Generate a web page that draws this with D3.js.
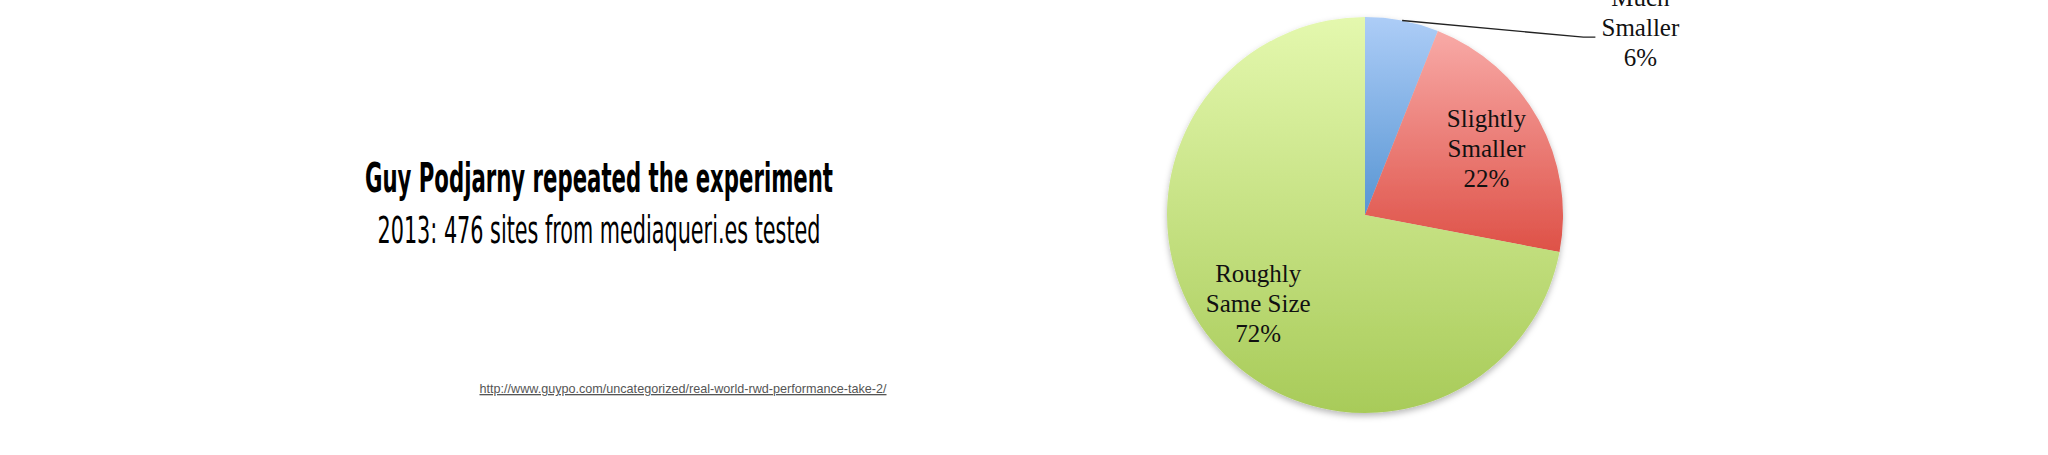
<!DOCTYPE html>
<html>
<head>
<meta charset="utf-8">
<script src="https://cdn.jsdelivr.net/npm/d3@7"></script>
<style>
  html, body { margin: 0; padding: 0; background: #fff; }
  svg { display: block; }
</style>
</head>
<body>
<div id="chart"></div>
<script>
// Slide data
const categories = ["Much Smaller", "Slightly Smaller", "Roughly Same Size"];
const labelLines = [["Much", "Smaller"], ["Slightly", "Smaller"], ["Roughly", "Same Size"]];
const shares = [6, 22, 72];
const titleText = "Guy Podjarny repeated the experiment";
const subtitleText = "2013: 476 sites from mediaqueri.es tested";
const sourceUrl = "http://www.guypo.com/uncategorized/real-world-rwd-performance-take-2/";

// gradient stops per slice: [top, bottom]
const sliceColors = [["#adcdf7", "#5795d3"], ["#f8aaa7", "#de5147"], ["#e4f8ae", "#a8cb59"]];

const W = 2048, H = 455;
const cx = 1365, cy = 215, radius = 198;

const svg = d3.select("#chart").append("svg")
  .attr("width", W)
  .attr("height", H)
  .attr("viewBox", [0, 0, W, H].join(" "));

svg.append("rect").attr("width", W).attr("height", H).attr("fill", "#fff");

const defs = svg.append("defs");

// one vertical gradient per slice, like the office default
sliceColors.forEach((c, i) => {
  const g = defs.append("linearGradient")
    .attr("id", "grad" + i)
    .attr("x1", 0).attr("y1", 0).attr("x2", 0).attr("y2", 1);
  g.append("stop").attr("offset", "0%").attr("stop-color", c[0]);
  g.append("stop").attr("offset", "100%").attr("stop-color", c[1]);
});

const shadow = defs.append("filter")
  .attr("id", "shadow")
  .attr("x", "-10%").attr("y", "-10%")
  .attr("width", "120%").attr("height", "120%");
shadow.append("feDropShadow")
  .attr("dx", 0).attr("dy", 3)
  .attr("stdDeviation", 3)
  .attr("flood-color", "#000")
  .attr("flood-opacity", 0.28);

// Left side text
const textX = 599;
svg.append("text")
  .attr("x", textX).attr("y", 192)
  .attr("text-anchor", "middle")
  .attr("textLength", 468)
  .attr("lengthAdjust", "spacingAndGlyphs")
  .style("font-family", "'Liberation Sans Narrow', 'DejaVu Sans Condensed', 'Liberation Sans', sans-serif")
  .style("font-weight", "bold")
  .style("font-size", "40px")
  .style("fill", "#000")
  .text(titleText);

svg.append("text")
  .attr("x", textX).attr("y", 243)
  .attr("text-anchor", "middle")
  .attr("textLength", 443)
  .attr("lengthAdjust", "spacingAndGlyphs")
  .style("font-family", "'Liberation Sans Narrow', 'DejaVu Sans Condensed', 'Liberation Sans', sans-serif")
  .style("font-size", "37px")
  .style("fill", "#000")
  .text(subtitleText);

svg.append("text")
  .attr("x", 683).attr("y", 393)
  .attr("text-anchor", "middle")
  .attr("textLength", 407)
  .attr("lengthAdjust", "spacingAndGlyphs")
  .style("font-family", "'Liberation Sans', Arial, sans-serif")
  .style("font-size", "13px")
  .style("fill", "#555")
  .style("text-decoration", "underline")
  .text(sourceUrl);

// Pie
const pie = d3.pie().sort(null).value(d => d)(shares);
const arc = d3.arc().innerRadius(0).outerRadius(radius);
const labelArc = d3.arc().innerRadius(radius * 0.7).outerRadius(radius * 0.7);

const g = svg.append("g").attr("transform", `translate(${cx},${cy})`);

g.append("g")
  .attr("filter", "url(#shadow)")
  .selectAll("path")
  .data(pie)
  .join("path")
    .attr("d", arc)
    .attr("fill", (d, i) => `url(#grad${i})`);

const labelFont = "'Liberation Serif', 'Times New Roman', serif";
const lineGap = 30;

function addLabel(x, y, i) {
  const lines = labelLines[i].concat([shares[i] + "%"]);
  const t = g.append("text")
    .attr("text-anchor", "middle")
    .style("font-family", labelFont)
    .style("font-size", "25px")
    .style("fill", "#111");
  lines.forEach((ln, k) => {
    t.append("tspan")
      .attr("x", x)
      .attr("y", y + 9 + (k - 1) * lineGap)
      .text(ln);
  });
}

// inside labels for the two larger slices
pie.forEach((d, i) => {
  if (i === 0) return;
  const [x, y] = labelArc.centroid(d);
  addLabel(x, y, i);
});

// outside label with a leader line for the small slice
const small = pie[0];
const mid = (small.startAngle + small.endAngle) / 2;
const p0 = [radius * Math.sin(mid), -radius * Math.cos(mid)];
const elbow = [radius * 1.103, -radius * 0.898];
const p1 = [elbow[0] + 12, elbow[1]];
g.append("polyline")
  .attr("points", [p0, elbow, p1].map(p => p.join(",")).join(" "))
  .attr("fill", "none")
  .attr("stroke", "#222")
  .attr("stroke-width", 1.3);

addLabel(p1[0] + 45, elbow[1] - 10, 0);
</script>
</body>
</html>
